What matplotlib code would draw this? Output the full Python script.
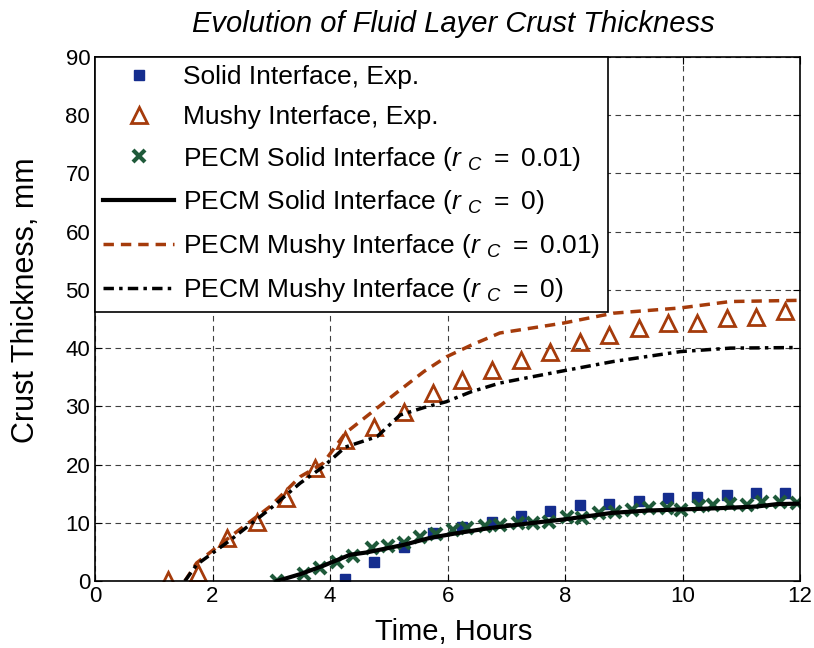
import matplotlib
matplotlib.use('Agg')
import matplotlib.pyplot as plt

plt.rcParams['font.family'] = ['Liberation Sans', 'DejaVu Sans']
plt.rcParams['mathtext.fontset'] = 'custom'
plt.rcParams['mathtext.rm'] = 'Liberation Sans'
plt.rcParams['mathtext.it'] = 'Liberation Sans:italic'

# experimental data
solid_exp_t = [4.25, 4.75, 5.25, 5.75, 6.25, 6.75, 7.25, 7.75, 8.25, 8.75, 9.25,
               9.75, 10.25, 10.75, 11.25, 11.75]
solid_exp = [0.3, 3.2, 5.9, 8.2, 9.3, 10.2, 11.2, 12.0, 13.1, 13.2, 13.7,
             14.3, 14.4, 14.7, 15.1, 15.1]

mushy_exp_t = [1.25, 1.75, 2.25, 2.75, 3.25, 3.75, 4.25, 4.75, 5.25, 5.75, 6.25,
               6.75, 7.25, 7.75, 8.25, 8.75, 9.25, 9.75, 10.25, 10.75, 11.25, 11.75]
mushy_exp = [0.2, 1.3, 7.3, 10.2, 14.2, 19.4, 24.2, 26.5, 29.1, 32.3, 34.5,
             36.3, 38.0, 39.4, 41.1, 42.3, 43.5, 44.3, 44.3, 45.2, 45.4, 46.3]

# PECM model, r_C = 0.01, solid interface (markers)
pecm_solid1_t = [3.1, 3.55, 3.83, 4.11, 4.39, 4.71, 4.99, 5.25, 5.53, 5.81, 6.1,
                 6.33, 6.64, 6.9, 7.2, 7.46, 7.72, 8.03, 8.28, 8.57, 8.85, 9.13,
                 9.42, 9.73, 9.98, 10.27, 10.52, 10.81, 11.09, 11.35, 11.66, 11.94]
pecm_solid1 = [0.0, 1.2, 2.2, 3.3, 4.3, 5.6, 6.0, 6.5, 7.6, 8.1, 8.8,
               9.1, 9.5, 9.6, 10.0, 10.0, 10.2, 11.0, 10.8, 11.7, 11.9, 12.2,
               12.5, 12.5, 12.2, 12.8, 13.0, 13.2, 13.0, 13.6, 13.6, 13.4]

# PECM model, r_C = 0, solid interface
pecm_solid0_t = [3.1, 3.5, 3.88, 4.34, 4.62, 5.25, 5.7, 6.15, 6.72, 7.3, 8.0,
                 8.8, 9.4, 10.0, 10.6, 11.27, 11.6, 12.0]
pecm_solid0 = [0.0, 1.2, 2.6, 4.5, 4.9, 6.2, 7.4, 8.2, 9.1, 9.8, 10.6,
               11.7, 12.1, 12.3, 12.5, 12.8, 13.2, 13.3]

# PECM model, mushy interface
pecm_mushy_t = [1.53, 1.73, 2.3, 2.98, 3.49, 3.88, 4.26, 4.8, 5.19, 5.6, 5.98,
                6.4, 6.89, 7.4, 7.97, 8.82, 9.96, 10.81, 11.94]
pecm_mushy1 = [0.0, 3.1, 7.6, 12.8, 17.9, 20.2, 25.4, 29.7, 32.8, 36.0, 38.5,
               40.5, 42.6, 43.4, 44.3, 46.0, 46.9, 48.0, 48.2]
pecm_mushy0 = [0.0, 2.8, 7.0, 12.4, 16.8, 19.6, 23.0, 24.8, 28.5, 29.8, 30.8,
               32.5, 34.0, 35.0, 36.1, 37.7, 39.4, 40.0, 40.1]

navy = '#152d8e'
brown = '#a53b0b'
green = '#1f5a3a'

rc = r'($\mathit{r}\ {}_{\mathit{C}}\ =\ \mathit{%s)}$'

fig = plt.figure(figsize=(8.14, 6.48), dpi=100)
ax = fig.add_axes([0.1167, 0.1034, 0.8663, 0.8086])

ax.plot(solid_exp_t, solid_exp, 's', color=navy, ms=7, mec=navy,
        label='Solid Interface, Exp.')
ax.plot(mushy_exp_t, mushy_exp, '^', color=brown, ms=12, mfc='none', mew=2,
        label='Mushy Interface, Exp.')
ax.plot(pecm_solid1_t, pecm_solid1, 'x', color=green, ms=8, mew=3,
        label='PECM Solid Interface ' + rc % '0.01')
ax.plot(pecm_solid0_t, pecm_solid0, '-', color='black', lw=3,
        label='PECM Solid Interface ' + rc % '0')
ax.plot(pecm_mushy_t, pecm_mushy1, color=brown, lw=2.5, ls=(0, (3, 2)),
        label='PECM Mushy Interface ' + rc % '0.01')
ax.plot(pecm_mushy_t, pecm_mushy0, color='black', lw=2.5, ls=(0, (3, 1.5, 1, 1.5)),
        label='PECM Mushy Interface ' + rc % '0')

ax.set_xlim(0, 12)
ax.set_ylim(0, 90)
ax.set_xticks(range(0, 13, 2))
ax.set_yticks(range(0, 91, 10))
ax.tick_params(direction='in', top=True, right=True, labelsize=16, length=5)
ax.grid(True, color='0.25', ls=(0, (5, 4)), lw=0.8)
for s in ax.spines.values():
    s.set_linewidth(1.2)

ax.set_xlabel('Time, Hours', fontsize=21)
ax.xaxis.set_label_coords(0.508, -0.07)
ax.set_ylabel('Crust Thickness, mm', fontsize=22)
ax.yaxis.set_label_coords(-0.077, 0.536)
ax.set_title('Evolution of Fluid Layer Crust Thickness', fontsize=21, style='italic',
             pad=18, x=0.508)

leg = ax.legend(loc='upper left', fontsize=19, numpoints=1, handlelength=2.7,
                borderaxespad=0, fancybox=False, edgecolor='black', framealpha=1,
                labelspacing=0.6, handletextpad=0.35, borderpad=0.3)
leg.get_frame().set_linewidth(1.2)

fig.savefig('out.png', dpi=100)
